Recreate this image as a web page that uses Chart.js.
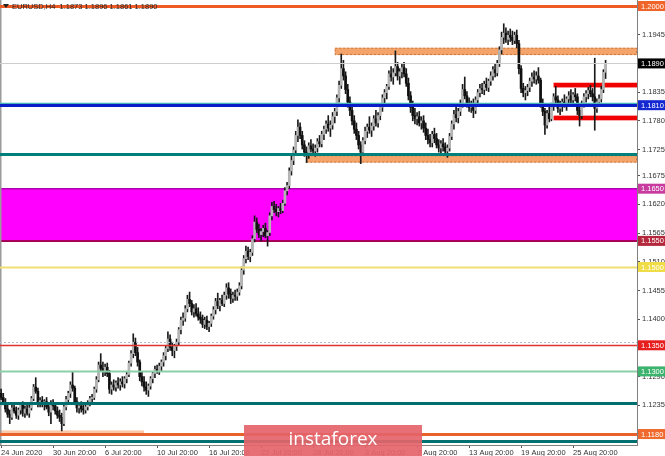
<!DOCTYPE html>
<html>
<head>
<meta charset="utf-8">
<script src="https://cdn.jsdelivr.net/npm/chart.js@4.4.0/dist/chart.umd.min.js"></script>
<style>
html, body { margin: 0; padding: 0; background: #fff; }
canvas { display: block; }
</style>
</head>
<body>
<canvas id="chart1" width="665" height="456"></canvas>
<script>
// EURUSD H4 candles, 24 Jun 20:00 .. 28 Aug 08:00 (one line per trading day)
const opens = [
  1.1258,
  1.1250, 1.1240, 1.1228, 1.1218, 1.1212, 1.1230,
  1.1224, 1.1216, 1.1226, 1.1236, 1.1220, 1.1228,
  1.1220, 1.1230, 1.1248, 1.1270, 1.1262, 1.1240,
  1.1244, 1.1238, 1.1242, 1.1232, 1.1222, 1.1238,
  1.1234, 1.1224, 1.1216, 1.1212, 1.1200, 1.1232,
  1.1246, 1.1258, 1.1274, 1.1268, 1.1242, 1.1230,
  1.1234, 1.1228, 1.1226, 1.1232, 1.1240, 1.1248,
  1.1250, 1.1266, 1.1284, 1.1312, 1.1306, 1.1300,
  1.1308, 1.1296, 1.1266, 1.1274, 1.1270, 1.1278,
  1.1274, 1.1280, 1.1276, 1.1286, 1.1294, 1.1316,
  1.1334, 1.1356, 1.1336, 1.1318, 1.1290, 1.1280,
  1.1270, 1.1264, 1.1272, 1.1286, 1.1296, 1.1304,
  1.1300, 1.1310, 1.1318, 1.1330, 1.1344, 1.1362,
  1.1346, 1.1340, 1.1348, 1.1356, 1.1380, 1.1398,
  1.1402, 1.1420, 1.1438, 1.1430, 1.1414, 1.1420,
  1.1410, 1.1404, 1.1400, 1.1390, 1.1398, 1.1386,
  1.1392, 1.1406, 1.1418, 1.1434, 1.1426, 1.1436,
  1.1430, 1.1446, 1.1460, 1.1448, 1.1440, 1.1446,
  1.1444, 1.1452, 1.1464, 1.1494, 1.1516, 1.1530,
  1.1520, 1.1528, 1.1554, 1.1586, 1.1572, 1.1562,
  1.1568, 1.1574, 1.1560, 1.1566, 1.1598, 1.1616,
  1.1610, 1.1606, 1.1612, 1.1608, 1.1622, 1.1646,
  1.1656, 1.1684, 1.1704, 1.1724, 1.1752, 1.1768,
  1.1752, 1.1734, 1.1720, 1.1714, 1.1732, 1.1726,
  1.1722, 1.1728, 1.1740, 1.1736, 1.1754, 1.1764,
  1.1774, 1.1766, 1.1772, 1.1788, 1.1798, 1.1824,
  1.1848, 1.1880, 1.1866, 1.1840, 1.1816, 1.1800,
  1.1780, 1.1764, 1.1752, 1.1734, 1.1720, 1.1742,
  1.1760, 1.1768, 1.1762, 1.1770, 1.1784, 1.1776,
  1.1790, 1.1806, 1.1824, 1.1834, 1.1846, 1.1870,
  1.1864, 1.1872, 1.1884, 1.1866, 1.1874, 1.1882,
  1.1870, 1.1852, 1.1828, 1.1806, 1.1790, 1.1784,
  1.1788, 1.1776, 1.1780, 1.1766, 1.1752, 1.1744,
  1.1738, 1.1754, 1.1746, 1.1734, 1.1728, 1.1736,
  1.1730, 1.1722, 1.1728, 1.1750, 1.1774, 1.1792,
  1.1786, 1.1798, 1.1812, 1.1840, 1.1828, 1.1814,
  1.1806, 1.1812, 1.1800, 1.1820, 1.1834, 1.1842,
  1.1840, 1.1850, 1.1844, 1.1856, 1.1866, 1.1878,
  1.1872, 1.1890, 1.1916, 1.1940, 1.1948, 1.1936,
  1.1944, 1.1940, 1.1934, 1.1944, 1.1928, 1.1880,
  1.1842, 1.1834, 1.1838, 1.1844, 1.1856, 1.1864,
  1.1860, 1.1866, 1.1858, 1.1814, 1.1798, 1.1772,
  1.1794, 1.1784, 1.1808, 1.1826, 1.1820, 1.1804,
  1.1810, 1.1816, 1.1812, 1.1822, 1.1828, 1.1820,
  1.1830, 1.1826, 1.1800, 1.1790, 1.1812, 1.1826,
  1.1832, 1.1838, 1.1832, 1.1826, 1.1804, 1.1816,
  1.1822, 1.1840, 1.1873
];
const highs = [
  1.1266,
  1.1258, 1.1248, 1.1235, 1.1226, 1.1236, 1.1238,
  1.1232, 1.1230, 1.1240, 1.1242, 1.1234, 1.1238,
  1.1236, 1.1252, 1.1275, 1.1288, 1.1268, 1.1250,
  1.1252, 1.1246, 1.1250, 1.1240, 1.1244, 1.1246,
  1.1240, 1.1232, 1.1226, 1.1220, 1.1238, 1.1252,
  1.1262, 1.1280, 1.1300, 1.1272, 1.1250, 1.1240,
  1.1242, 1.1236, 1.1238, 1.1244, 1.1252, 1.1256,
  1.1270, 1.1290, 1.1318, 1.1334, 1.1318, 1.1314,
  1.1316, 1.1302, 1.1280, 1.1284, 1.1282, 1.1288,
  1.1286, 1.1290, 1.1290, 1.1300, 1.1320, 1.1340,
  1.1372, 1.1364, 1.1346, 1.1322, 1.1300, 1.1290,
  1.1280, 1.1276, 1.1290, 1.1300, 1.1310, 1.1312,
  1.1316, 1.1322, 1.1336, 1.1350, 1.1376, 1.1370,
  1.1356, 1.1352, 1.1362, 1.1384, 1.1404, 1.1412,
  1.1426, 1.1446, 1.1452, 1.1436, 1.1428, 1.1430,
  1.1422, 1.1414, 1.1408, 1.1404, 1.1406, 1.1396,
  1.1410, 1.1424, 1.1440, 1.1450, 1.1440, 1.1446,
  1.1452, 1.1468, 1.1470, 1.1458, 1.1452, 1.1456,
  1.1458, 1.1470, 1.1500, 1.1522, 1.1540, 1.1538,
  1.1534, 1.1560, 1.1598, 1.1594, 1.1582, 1.1574,
  1.1580, 1.1584, 1.1570, 1.1604, 1.1624, 1.1626,
  1.1620, 1.1616, 1.1622, 1.1628, 1.1652, 1.1662,
  1.1690, 1.1712, 1.1730, 1.1760, 1.1782, 1.1776,
  1.1760, 1.1742, 1.1730, 1.1738, 1.1744, 1.1736,
  1.1734, 1.1746, 1.1752, 1.1760, 1.1770, 1.1780,
  1.1790, 1.1780, 1.1796, 1.1804, 1.1830, 1.1856,
  1.1908, 1.1896, 1.1874, 1.1850, 1.1826, 1.1810,
  1.1790, 1.1776, 1.1760, 1.1740, 1.1748, 1.1768,
  1.1774, 1.1788, 1.1776, 1.1790, 1.1800, 1.1796,
  1.1812, 1.1830, 1.1840, 1.1850, 1.1876, 1.1884,
  1.1880, 1.1914, 1.1892, 1.1880, 1.1890, 1.1892,
  1.1880, 1.1862, 1.1836, 1.1818, 1.1804, 1.1796,
  1.1798, 1.1788, 1.1790, 1.1776, 1.1764, 1.1754,
  1.1760, 1.1766, 1.1756, 1.1744, 1.1742, 1.1746,
  1.1738, 1.1734, 1.1756, 1.1780, 1.1800, 1.1806,
  1.1804, 1.1820, 1.1850, 1.1864, 1.1836, 1.1824,
  1.1818, 1.1822, 1.1826, 1.1840, 1.1850, 1.1852,
  1.1856, 1.1862, 1.1860, 1.1874, 1.1884, 1.1890,
  1.1896, 1.1922, 1.1950, 1.1966, 1.1958, 1.1952,
  1.1956, 1.1952, 1.1950, 1.1954, 1.1934, 1.1886,
  1.1852, 1.1846, 1.1850, 1.1862, 1.1872, 1.1876,
  1.1874, 1.1882, 1.1862, 1.1822, 1.1804, 1.1800,
  1.1806, 1.1814, 1.1832, 1.1846, 1.1828, 1.1818,
  1.1822, 1.1830, 1.1826, 1.1836, 1.1840, 1.1834,
  1.1842, 1.1832, 1.1808, 1.1818, 1.1832, 1.1838,
  1.1844, 1.1848, 1.1842, 1.1900, 1.1822, 1.1830,
  1.1846, 1.1878, 1.1896
];
const lows = [
  1.1246,
  1.1236, 1.1222, 1.1212, 1.1200, 1.1208, 1.1220,
  1.1210, 1.1208, 1.1218, 1.1214, 1.1212, 1.1216,
  1.1212, 1.1226, 1.1244, 1.1258, 1.1232, 1.1232,
  1.1232, 1.1226, 1.1228, 1.1215, 1.1200, 1.1226,
  1.1218, 1.1210, 1.1204, 1.1186, 1.1196, 1.1226,
  1.1240, 1.1250, 1.1262, 1.1236, 1.1222, 1.1220,
  1.1222, 1.1218, 1.1220, 1.1226, 1.1234, 1.1240,
  1.1246, 1.1260, 1.1280, 1.1300, 1.1290, 1.1292,
  1.1290, 1.1258, 1.1256, 1.1264, 1.1262, 1.1268,
  1.1264, 1.1270, 1.1268, 1.1278, 1.1290, 1.1310,
  1.1326, 1.1330, 1.1310, 1.1282, 1.1272, 1.1262,
  1.1256, 1.1252, 1.1266, 1.1278, 1.1288, 1.1296,
  1.1294, 1.1300, 1.1310, 1.1322, 1.1338, 1.1340,
  1.1330, 1.1326, 1.1340, 1.1350, 1.1372, 1.1388,
  1.1396, 1.1414, 1.1424, 1.1408, 1.1404, 1.1406,
  1.1398, 1.1392, 1.1384, 1.1382, 1.1380, 1.1376,
  1.1386, 1.1400, 1.1410, 1.1420, 1.1416, 1.1426,
  1.1424, 1.1438, 1.1440, 1.1430, 1.1432, 1.1436,
  1.1436, 1.1446, 1.1458, 1.1486, 1.1508, 1.1514,
  1.1510, 1.1522, 1.1548, 1.1566, 1.1556, 1.1550,
  1.1558, 1.1556, 1.1540, 1.1560, 1.1590, 1.1604,
  1.1598, 1.1596, 1.1602, 1.1604, 1.1618, 1.1638,
  1.1650, 1.1676, 1.1696, 1.1716, 1.1740, 1.1746,
  1.1726, 1.1712, 1.1700, 1.1708, 1.1720, 1.1714,
  1.1712, 1.1720, 1.1730, 1.1730, 1.1744, 1.1756,
  1.1760, 1.1750, 1.1764, 1.1776, 1.1790, 1.1816,
  1.1842, 1.1858, 1.1832, 1.1806, 1.1790, 1.1772,
  1.1756, 1.1744, 1.1726, 1.1698, 1.1714, 1.1736,
  1.1748, 1.1756, 1.1750, 1.1762, 1.1770, 1.1768,
  1.1782, 1.1798, 1.1812, 1.1822, 1.1840, 1.1856,
  1.1850, 1.1866, 1.1858, 1.1850, 1.1862, 1.1864,
  1.1846, 1.1820, 1.1796, 1.1780, 1.1774, 1.1772,
  1.1770, 1.1764, 1.1758, 1.1744, 1.1736, 1.1730,
  1.1730, 1.1738, 1.1728, 1.1720, 1.1718, 1.1722,
  1.1716, 1.1710, 1.1722, 1.1744, 1.1764, 1.1778,
  1.1776, 1.1790, 1.1806, 1.1822, 1.1806, 1.1798,
  1.1796, 1.1786, 1.1794, 1.1812, 1.1826, 1.1832,
  1.1830, 1.1838, 1.1836, 1.1848, 1.1858, 1.1864,
  1.1866, 1.1884, 1.1908, 1.1928, 1.1930, 1.1926,
  1.1932, 1.1926, 1.1928, 1.1920, 1.1870, 1.1834,
  1.1826, 1.1820, 1.1828, 1.1836, 1.1846, 1.1852,
  1.1850, 1.1852, 1.1806, 1.1790, 1.1754, 1.1766,
  1.1778, 1.1780, 1.1800, 1.1814, 1.1796, 1.1792,
  1.1798, 1.1806, 1.1800, 1.1810, 1.1814, 1.1808,
  1.1818, 1.1792, 1.1770, 1.1784, 1.1806, 1.1816,
  1.1822, 1.1826, 1.1818, 1.1762, 1.1796, 1.1808,
  1.1816, 1.1834, 1.1861
];
const closes = [
  1.1250,
  1.1240, 1.1228, 1.1218, 1.1212, 1.1230, 1.1224,
  1.1216, 1.1226, 1.1236, 1.1220, 1.1228, 1.1220,
  1.1230, 1.1248, 1.1270, 1.1262, 1.1240, 1.1244,
  1.1238, 1.1242, 1.1232, 1.1222, 1.1238, 1.1234,
  1.1224, 1.1216, 1.1212, 1.1200, 1.1232, 1.1246,
  1.1258, 1.1274, 1.1268, 1.1242, 1.1230, 1.1234,
  1.1228, 1.1226, 1.1232, 1.1240, 1.1248, 1.1250,
  1.1266, 1.1284, 1.1312, 1.1306, 1.1300, 1.1308,
  1.1296, 1.1266, 1.1274, 1.1270, 1.1278, 1.1274,
  1.1280, 1.1276, 1.1286, 1.1294, 1.1316, 1.1334,
  1.1356, 1.1336, 1.1318, 1.1290, 1.1280, 1.1270,
  1.1264, 1.1272, 1.1286, 1.1296, 1.1304, 1.1300,
  1.1310, 1.1318, 1.1330, 1.1344, 1.1362, 1.1346,
  1.1340, 1.1348, 1.1356, 1.1380, 1.1398, 1.1402,
  1.1420, 1.1438, 1.1430, 1.1414, 1.1420, 1.1410,
  1.1404, 1.1400, 1.1390, 1.1398, 1.1386, 1.1392,
  1.1406, 1.1418, 1.1434, 1.1426, 1.1436, 1.1430,
  1.1446, 1.1460, 1.1448, 1.1440, 1.1446, 1.1444,
  1.1452, 1.1464, 1.1494, 1.1516, 1.1530, 1.1520,
  1.1528, 1.1554, 1.1586, 1.1572, 1.1562, 1.1568,
  1.1574, 1.1560, 1.1566, 1.1598, 1.1616, 1.1610,
  1.1606, 1.1612, 1.1608, 1.1622, 1.1646, 1.1656,
  1.1684, 1.1704, 1.1724, 1.1752, 1.1768, 1.1752,
  1.1734, 1.1720, 1.1714, 1.1732, 1.1726, 1.1722,
  1.1728, 1.1740, 1.1736, 1.1754, 1.1764, 1.1774,
  1.1766, 1.1772, 1.1788, 1.1798, 1.1824, 1.1848,
  1.1880, 1.1866, 1.1840, 1.1816, 1.1800, 1.1780,
  1.1764, 1.1752, 1.1734, 1.1720, 1.1742, 1.1760,
  1.1768, 1.1762, 1.1770, 1.1784, 1.1776, 1.1790,
  1.1806, 1.1824, 1.1834, 1.1846, 1.1870, 1.1864,
  1.1872, 1.1884, 1.1866, 1.1874, 1.1882, 1.1870,
  1.1852, 1.1828, 1.1806, 1.1790, 1.1784, 1.1788,
  1.1776, 1.1780, 1.1766, 1.1752, 1.1744, 1.1738,
  1.1754, 1.1746, 1.1734, 1.1728, 1.1736, 1.1730,
  1.1722, 1.1728, 1.1750, 1.1774, 1.1792, 1.1786,
  1.1798, 1.1812, 1.1840, 1.1828, 1.1814, 1.1806,
  1.1812, 1.1800, 1.1820, 1.1834, 1.1842, 1.1840,
  1.1850, 1.1844, 1.1856, 1.1866, 1.1878, 1.1872,
  1.1890, 1.1916, 1.1940, 1.1948, 1.1936, 1.1944,
  1.1940, 1.1934, 1.1944, 1.1928, 1.1880, 1.1842,
  1.1834, 1.1838, 1.1844, 1.1856, 1.1864, 1.1860,
  1.1866, 1.1858, 1.1814, 1.1798, 1.1772, 1.1794,
  1.1784, 1.1808, 1.1826, 1.1820, 1.1804, 1.1810,
  1.1816, 1.1812, 1.1822, 1.1828, 1.1820, 1.1830,
  1.1826, 1.1800, 1.1790, 1.1812, 1.1826, 1.1832,
  1.1838, 1.1832, 1.1826, 1.1804, 1.1816, 1.1822,
  1.1840, 1.1873, 1.1890
];

// axis ticks
const yTicks = [1.1945, 1.1890, 1.1835, 1.1780, 1.1725, 1.1675, 1.1620, 1.1565,
                1.1510, 1.1455, 1.1400, 1.1345, 1.1290, 1.1235, 1.1180];
const xTickBars = ['24 Jun 20:00', '30 Jun 20:00', '6 Jul 20:00', '10 Jul 20:00', '16 Jul 20:00',
                   '22 Jul 20:00', '28 Jul 20:00', '3 Aug 20:00', '7 Aug 20:00', '13 Aug 20:00',
                   '19 Aug 20:00', '25 Aug 20:00'];
const xTickText = ['24 Jun 2020', '30 Jun 20:00', '6 Jul 20:00', '10 Jul 20:00', '16 Jul 20:00',
                   '22 Jul 20:00', '28 Jul 20:00', '3 Aug 20:00', '7 Aug 20:00', '13 Aug 20:00',
                   '19 Aug 20:00', '25 Aug 20:00'];

// horizontal levels and zones drawn on the chart
const lineLevels = [1.2000, 1.1890, 1.1815, 1.1810, 1.1716, 1.1500, 1.1356, 1.1350, 1.1300, 1.1240, 1.1180, 1.1167];
const tagLevels = [1.2000, 1.1890, 1.1810, 1.1650, 1.1550, 1.1500, 1.1350, 1.1300, 1.1180];
const magentaZone = [1.1650, 1.1550];
const upperZone = [1.1920, 1.1906];      // from 30 Jul
const lowerZone = [1.1714, 1.1700];      // from 28 Jul
const rangeHigh = [1.1853, 1.1844];      // from 24 Aug
const rangeLow = [1.1790, 1.1781];       // from 24 Aug
const bottomZone = [1.1187, 1.1181];     // until 9 Jul
const upperZoneFrom = '30 Jul 12:00';
const lowerZoneFrom = '28 Jul 08:00';
const rangeFrom = '24 Aug 08:00';
const bottomZoneTo = '9 Jul 20:00';

const monthNames = ['Jan', 'Feb', 'Mar', 'Apr', 'May', 'Jun', 'Jul', 'Aug', 'Sep', 'Oct', 'Nov', 'Dec'];

// H4 bar times, weekends skipped; a few empty bars on the right like MT4's chart shift
function buildBarTimes(count) {
    const times = [];
    let t = Date.UTC(2020, 5, 24, 20);
    while (times.length < count) {
        const d = new Date(t);
        const wd = d.getUTCDay();
        if (wd !== 0 && wd !== 6) {
            times.push(d.getUTCDate() + ' ' + monthNames[d.getUTCMonth()] + ' ' +
                String(d.getUTCHours()).padStart(2, '0') + ':00');
        }
        t += 4 * 3600 * 1000;
    }
    return times;
}
const barTimes = buildBarTimes(opens.length + 14);

const wickData = highs.map((h, i) => [lows[i], h]);
const bodyData = opens.map((o, i) => [Math.min(o, closes[i]), Math.max(o, closes[i])]);
const bodyColors = opens.map((o, i) => closes[i] >= o ? '#b4b4b4' : '#101010');

function hline(ctx, a, y, color, width, dash) {
    ctx.save();
    ctx.strokeStyle = color;
    ctx.lineWidth = width;
    ctx.setLineDash(dash || []);
    ctx.beginPath();
    ctx.moveTo(a.left, y);
    ctx.lineTo(a.right, y);
    ctx.stroke();
    ctx.restore();
}

function zone(ctx, x0, x1, y0, y1, fill, edge) {
    ctx.save();
    ctx.fillStyle = fill;
    ctx.fillRect(x0, y0, x1 - x0, y1 - y0);
    if (edge) {
        ctx.strokeStyle = edge;
        ctx.lineWidth = 1;
        ctx.setLineDash([2, 2]);
        ctx.strokeRect(x0 + 0.5, y0 + 0.5, x1 - x0 - 1, y1 - y0 - 1);
    }
    ctx.restore();
}

const levelsPlugin = {
    id: 'levels',
    beforeDatasetsDraw(chart) {
        const { ctx, chartArea: a, scales: { x, y } } = chart;
        // magenta block
        const mt = y.getPixelForValue(magentaZone[0]);
        const mb = y.getPixelForValue(magentaZone[1]);
        zone(ctx, a.left, a.right, mt, mb, '#ff00ff');
        hline(ctx, a, mt, '#b000b0', 1.5);
        hline(ctx, a, mb, '#a8005a', 2);
        // peach zones
        const ux = x.getPixelForValue(barTimes.indexOf(upperZoneFrom));
        zone(ctx, ux, a.right, y.getPixelForValue(upperZone[0]), y.getPixelForValue(upperZone[1]), '#f4a46a', '#c8783c');
        const lx = x.getPixelForValue(barTimes.indexOf(lowerZoneFrom));
        zone(ctx, lx, a.right, y.getPixelForValue(lowerZone[0]), y.getPixelForValue(lowerZone[1]), '#f4a46a', '#c8783c');
        const bx = x.getPixelForValue(barTimes.indexOf(bottomZoneTo));
        zone(ctx, a.left, bx, y.getPixelForValue(bottomZone[0]), y.getPixelForValue(bottomZone[1]), '#f8c8a8');
        // red range bands
        const rx = x.getPixelForValue(barTimes.indexOf(rangeFrom));
        zone(ctx, rx, a.right, y.getPixelForValue(rangeHigh[0]), y.getPixelForValue(rangeHigh[1]), '#f00000');
        zone(ctx, rx, a.right, y.getPixelForValue(rangeLow[0]), y.getPixelForValue(rangeLow[1]), '#f00000');
        // left frame
        ctx.save();
        ctx.fillStyle = '#9a9a9a';
        ctx.fillRect(a.left, a.top, 1.5, a.bottom - a.top);
        ctx.restore();
    },
    afterDatasetsDraw(chart) {
        const { ctx, chartArea: a, scales: { y } } = chart;
        const styles = [
            ['#ee5a24', 3], ['#cdcdcd', 1], ['#44b8b8', 1.5], ['#0a1ec8', 3],
            ['#00807a', 3], ['#f0e070', 2], ['#a8bcd8', 1, [2, 2]], ['#e23232', 1.5],
            ['#8cd0a8', 2], ['#006e6e', 3], ['#e8602a', 3], ['#007070', 3]
        ];
        lineLevels.forEach((v, i) => {
            const s = styles[i];
            hline(ctx, a, Math.round(y.getPixelForValue(v)) + 0.5, s[0], s[1], s[2]);
        });
    },
    afterDraw(chart) {
        const { ctx, chartArea: a, scales: { y } } = chart;
        const tagColors = ['#f0642a', '#000000', '#1428d2', '#c83ca0', '#b4283c',
                           '#f0dc46', '#e61e1e', '#3cb46e', '#f0692d'];
        ctx.save();
        ctx.font = '7.5px "Liberation Sans"';
        ctx.textBaseline = 'middle';
        tagLevels.forEach((v, i) => {
            const py = y.getPixelForValue(v);
            ctx.fillStyle = tagColors[i];
            ctx.fillRect(a.right + 1, py - 5, chart.width - a.right - 1, 10);
            ctx.fillStyle = '#ffffff';
            ctx.fillText(v.toFixed(4), a.right + 4, py + 0.5);
        });
        // header line
        const n = closes.length - 1;
        ctx.fillStyle = '#222';
        ctx.beginPath();
        ctx.moveTo(3, 4); ctx.lineTo(9, 4); ctx.lineTo(6, 8); ctx.closePath();
        ctx.fill();
        ctx.font = '7.5px "Liberation Sans"';
        ctx.textBaseline = 'alphabetic';
        ctx.fillText('EURUSD,H4  ' + [opens[n], highs[n], lows[n], closes[n]].map(v => v.toFixed(4)).join(' '), 12, 9);
        // watermark
        ctx.fillStyle = 'rgba(228, 100, 105, 0.92)';
        ctx.fillRect(244, 425, 178, 31);
        ctx.fillStyle = '#ffffff';
        ctx.font = '19px "Open Sans"';
        ctx.textAlign = 'center';
        ctx.textBaseline = 'middle';
        ctx.fillText('instaforex', 333, 440);
        ctx.restore();
    }
};

function initializeChart() {
    const ctx = document.getElementById('chart1').getContext('2d');
    new Chart(ctx, {
        type: 'bar',
        data: {
            labels: barTimes,
            datasets: [
                {
                    label: 'Body',
                    data: bodyData,
                    backgroundColor: bodyColors,
                    barThickness: 2,
                    minBarLength: 1,
                    grouped: false
                },
                {
                    label: 'Wick',
                    data: wickData,
                    backgroundColor: '#1a1a1a',
                    barThickness: 1,
                    grouped: false
                }
            ]
        },
        options: {
            responsive: false,
            animation: false,
            layout: { padding: 0 },
            plugins: { legend: { display: false }, tooltip: { enabled: false } },
            scales: {
                x: {
                    grid: {
                        drawOnChartArea: false, offset: false, tickLength: 3,
                        color: c => (c.tick && c.tick.label) ? '#555' : 'rgba(0,0,0,0)'
                    },
                    border: { color: '#808080' },
                    ticks: {
                        autoSkip: false, maxRotation: 0, minRotation: 0, align: 'start', padding: 0,
                        font: { family: 'Liberation Sans', size: 7.5 }, color: '#333',
                        callback: function (value) {
                            const k = xTickBars.indexOf(this.getLabelForValue(value));
                            return k >= 0 ? xTickText[k] : '';
                        }
                    },
                    afterFit: s => { s.height = 11; s.paddingLeft = 0; s.paddingRight = 0; }
                },
                y: {
                    type: 'linear',
                    position: 'right',
                    min: 1.1159,
                    max: 1.20115,
                    afterBuildTicks: s => { s.ticks = yTicks.map(v => ({ value: v })); },
                    grid: { drawOnChartArea: false, tickLength: 3, color: '#555' },
                    border: { color: '#808080' },
                    ticks: {
                        padding: 2, color: '#333',
                        font: { family: 'Liberation Sans', size: 7.5 },
                        callback: v => v.toFixed(4)
                    },
                    afterFit: s => { s.width = 28; s.paddingTop = 0; s.paddingBottom = 0; }
                }
            }
        },
        plugins: [levelsPlugin]
    });
}

window.onload = initializeChart;
</script>
</body>
</html>
